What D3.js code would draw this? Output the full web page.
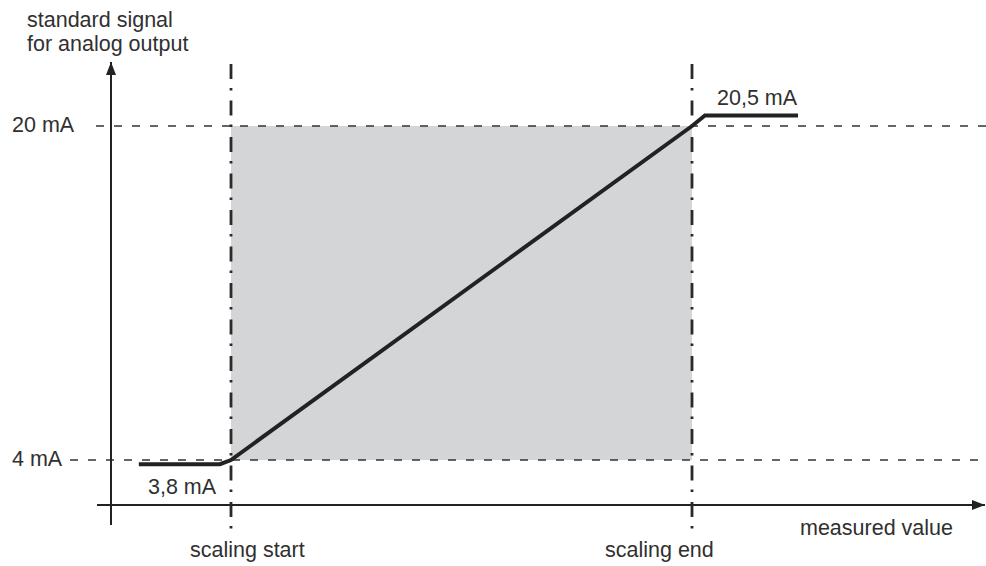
<!DOCTYPE html>
<html>
<head>
<meta charset="utf-8">
<script src="https://cdn.jsdelivr.net/npm/d3@7"></script>
<style>
  body { margin: 0; background: #fff; }
  text { font-family: "Liberation Sans", Arial, sans-serif; font-size: 21.5px; fill: #303030; }
</style>
</head>
<body>
<script>
// measured value in % of scaling range, output signal in mA
const levelValues = [4, 20];
const levelLabels = ['4 mA', '20 mA'];
const scalingPoints = [0, 100];
const scalingLabels = ['scaling start', 'scaling end'];
const outX = [-20, -2.4, 0, 100, 102.8, 123];
const outY = [3.8, 3.8, 4, 20, 20.5, 20.5];

const svg = d3.select('body')
  .append('svg')
  .attr('width', 986)
  .attr('height', 566);

const x = d3.scaleLinear().domain([0, 100]).range([231, 692]);
const y = d3.scaleLinear().domain([4, 20]).range([460, 126]);

const defs = svg.append('defs');
defs.append('marker')
  .attr('id', 'arrow')
  .attr('viewBox', '0 0 13 10')
  .attr('refX', 13).attr('refY', 5)
  .attr('markerWidth', 13).attr('markerHeight', 10)
  .attr('markerUnits', 'userSpaceOnUse')
  .attr('orient', 'auto')
  .append('path')
  .attr('d', 'M0,0 L13,5 L0,10 Z')
  .attr('fill', '#222');

// grey scaling area
svg.append('rect')
  .attr('x', x(0))
  .attr('y', y(20))
  .attr('width', x(100) - x(0))
  .attr('height', y(4) - y(20))
  .attr('fill', '#d4d5d7');

// dashed signal levels
svg.selectAll('.level')
  .data(levelValues)
  .enter()
  .append('line')
  .classed('level', true)
  .attr('x1', (d, i) => i === 0 ? 70 : 96)
  .attr('x2', 986)
  .attr('y1', d => y(d))
  .attr('y2', d => y(d))
  .attr('stroke', '#333')
  .attr('stroke-width', 1.7)
  .attr('stroke-dasharray', '8,10');

svg.selectAll('.levelLabel')
  .data(levelValues)
  .enter()
  .append('text')
  .attr('x', 12)
  .attr('y', d => y(d) + 6)
  .text((d, i) => levelLabels[i]);

// axes
svg.append('line')
  .attr('x1', 111).attr('x2', 111)
  .attr('y1', 525).attr('y2', 62)
  .attr('stroke', '#222').attr('stroke-width', 2)
  .attr('marker-end', 'url(#arrow)');

svg.append('line')
  .attr('x1', 97).attr('x2', 985)
  .attr('y1', 505).attr('y2', 505)
  .attr('stroke', '#222').attr('stroke-width', 2)
  .attr('marker-end', 'url(#arrow)');

// scaling start / end dash-dot lines
svg.selectAll('.scale')
  .data(scalingPoints)
  .enter()
  .append('line')
  .attr('x1', d => x(d)).attr('x2', d => x(d))
  .attr('y1', 64).attr('y2', 530)
  .attr('stroke', '#2a2a2a')
  .attr('stroke-width', 2.8)
  .attr('stroke-dasharray', '15,9,2.5,10');

svg.selectAll('.scaleLabel')
  .data(scalingPoints)
  .enter()
  .append('text')
  .attr('x', (d, i) => x(d) - (i === 0 ? 41 : 87))
  .attr('y', 557)
  .text((d, i) => scalingLabels[i]);

// output characteristic
const line = d3.line()
  .x(d => x(d[0]))
  .y(d => y(d[1]));

svg.append('path')
  .datum(outX.map((d, i) => [d, outY[i]]))
  .attr('d', line)
  .attr('fill', 'none')
  .attr('stroke', '#222')
  .attr('stroke-width', 4);

svg.append('text')
  .attr('x', 148).attr('y', 494)
  .text('3,8 mA');

svg.append('text')
  .attr('x', 717).attr('y', 105)
  .text('20,5 mA');

svg.append('text')
  .attr('x', 27).attr('y', 27)
  .text('standard signal');

svg.append('text')
  .attr('x', 27).attr('y', 51)
  .text('for analog output');

svg.append('text')
  .attr('x', 800).attr('y', 535)
  .text('measured value');
</script>
</body>
</html>
